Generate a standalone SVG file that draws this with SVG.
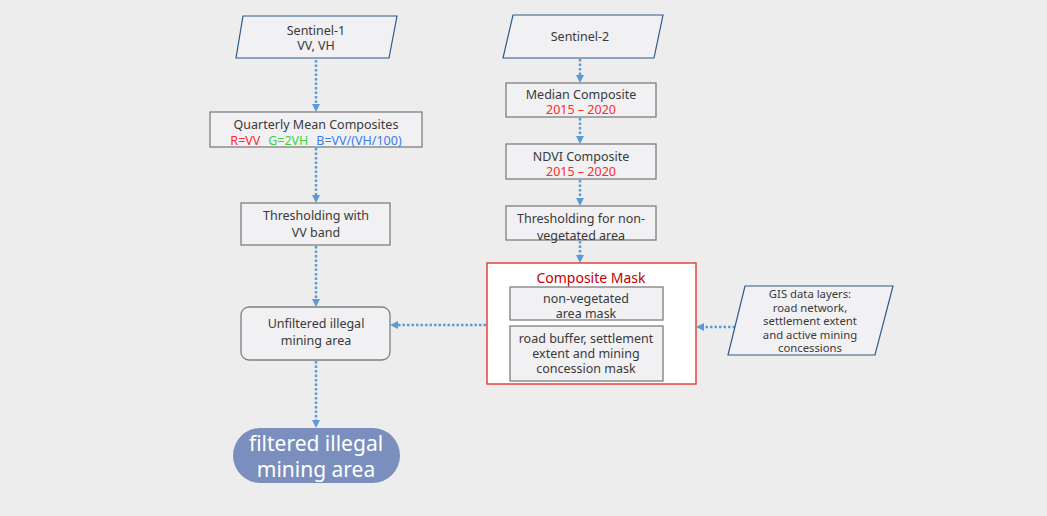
<svg xmlns="http://www.w3.org/2000/svg" width="1047" height="516" viewBox="0 0 1047 516">
<defs>
<marker id="ah" markerWidth="8" markerHeight="8" refX="4" refY="4" orient="auto" markerUnits="userSpaceOnUse">
<path d="M0,0 L8,4 L0,8 Z" fill="#5b9bd5"/>
</marker>
</defs>
<style>
.bg{fill:#ededed}
.io{fill:#f1f0f3;stroke:#2f5b8a;stroke-width:1.2}
.box{fill:#f1f0f3;stroke:#7f7f7f;stroke-width:1.3}
.t{font-family:"Noto Sans","Open Sans",sans-serif;font-size:12.5px;fill:#3a3a3a;text-anchor:middle}
.s{font-size:11.3px}
.red{fill:#ff2a2a}
.c{fill:none;stroke:#5b9bd5;stroke-width:2.5;stroke-dasharray:2.5 2;marker-end:url(#ah)}
</style>
<rect class="bg" x="0" y="0" width="1047" height="516"/>
<g id="connectors">
<line class="c" x1="316" y1="60" x2="316" y2="108"/>
<line class="c" x1="316" y1="148" x2="316" y2="199"/>
<line class="c" x1="316" y1="246" x2="316" y2="303"/>
<line class="c" x1="316" y1="361" x2="316" y2="424"/>
<line class="c" x1="580" y1="59" x2="580" y2="79"/>
<line class="c" x1="580" y1="118" x2="580" y2="140"/>
<line class="c" x1="580" y1="180" x2="580" y2="202"/>
<line class="c" x1="580" y1="241" x2="580" y2="259"/>
<line class="c" x1="486" y1="325" x2="394" y2="325"/>
<line class="c" x1="735" y1="327" x2="700" y2="327"/>
</g>
<g id="sentinel1">
<polygon class="io" points="243,16 397,16 389,58 236,58"/>
<text class="t" x="316" y="35">Sentinel-1</text>
<text class="t" x="316" y="50">VV, VH</text>
</g>
<g id="quarterly">
<rect class="box" x="210" y="112" width="212" height="35"/>
<text class="t" x="316" y="129">Quarterly Mean Composites</text>
<text class="t" x="316" y="145"><tspan fill="#ff2a2a">R=VV</tspan><tspan fill="#3fcf3f" dx="8">G=2VH</tspan><tspan fill="#3a7cf0" dx="8">B=VV/(VH/100)</tspan></text>
</g>
<g id="thresh-vv">
<rect class="box" x="241" y="203" width="149" height="42"/>
<text class="t" x="316" y="220">Thresholding with</text>
<text class="t" x="316" y="237">VV band</text>
</g>
<g id="unfiltered">
<rect class="box" x="241" y="307" width="149" height="53" rx="8"/>
<text class="t" x="316" y="328">Unfiltered illegal</text>
<text class="t" x="316" y="345">mining area</text>
</g>
<g id="filtered">
<rect x="233" y="428" width="167" height="55" rx="27.5" fill="#7a8fbd"/>
<text class="t" x="316" y="451" style="font-size:21px;fill:#ffffff">filtered illegal</text>
<text class="t" x="316" y="477" style="font-size:21px;fill:#ffffff">mining area</text>
</g>
<g id="sentinel2">
<polygon class="io" points="513,15 663,15 654,58 503,58"/>
<text class="t" x="580" y="41">Sentinel-2</text>
</g>
<g id="median">
<rect class="box" x="506" y="83" width="150" height="34"/>
<text class="t" x="581" y="99">Median Composite</text>
<text class="t red" x="581" y="114">2015 – 2020</text>
</g>
<g id="ndvi">
<rect class="box" x="506" y="144" width="150" height="35"/>
<text class="t" x="581" y="161">NDVI Composite</text>
<text class="t red" x="581" y="176">2015 – 2020</text>
</g>
<g id="thresh-nonveg">
<rect class="box" x="506" y="206" width="150" height="34"/>
<text class="t" x="581" y="223">Thresholding for non-</text>
<text class="t" x="581" y="240">vegetated area</text>
</g>
<g id="composite-mask">
<rect x="487" y="263" width="209" height="121" fill="#ffffff" stroke="#e84040" stroke-width="1.5"/>
<text class="t" x="591" y="283" style="font-size:14px;fill:#c00000">Composite Mask</text>
<rect class="box" x="510" y="287" width="153" height="33"/>
<text class="t" x="586" y="303">non-vegetated</text>
<text class="t" x="586" y="318">area mask</text>
<rect class="box" x="510" y="326" width="153" height="55"/>
<text class="t" x="586" y="343">road buffer, settlement</text>
<text class="t" x="586" y="358">extent and mining</text>
<text class="t" x="586" y="373">concession mask</text>
</g>
<g id="gis">
<polygon class="io" points="745,286 893,286 875,355 728,355"/>
<text class="t s" x="810" y="298">GIS data layers:</text>
<text class="t s" x="810" y="311.5">road network,</text>
<text class="t s" x="810" y="325">settlement extent</text>
<text class="t s" x="810" y="338.5">and active mining</text>
<text class="t s" x="810" y="352">concessions</text>
</g>
</svg>
